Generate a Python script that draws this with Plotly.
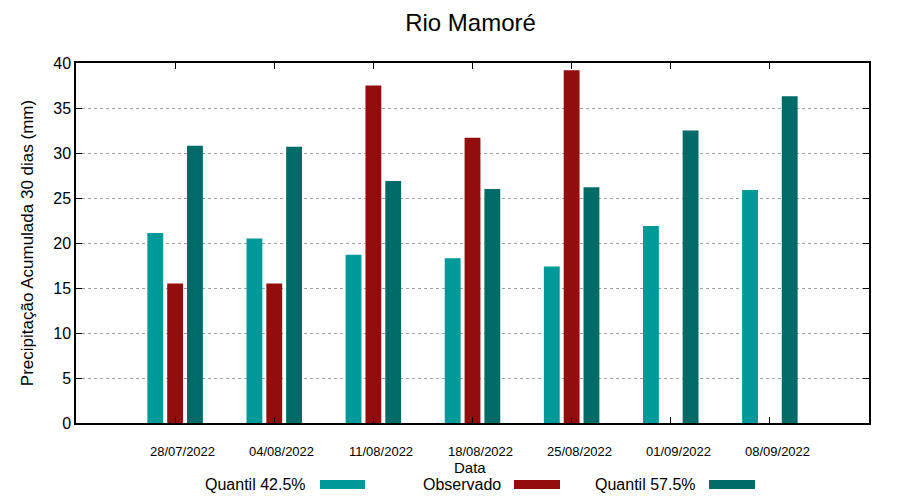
import plotly.graph_objects as go

datas = ["28/07/2022", "04/08/2022", "11/08/2022", "18/08/2022", "25/08/2022", "01/09/2022", "08/09/2022"]
quantil_425 = [21.1, 20.5, 18.7, 18.3, 17.4, 21.9, 25.9]
observado = [15.5, 15.5, 37.5, 31.7, 39.2, None, None]
quantil_575 = [30.8, 30.7, 26.9, 26.0, 26.2, 32.5, 36.3]

series = [
    ("Quantil 42.5%", quantil_425, "#009999"),
    ("Observado", observado, "#940d0d"),
    ("Quantil 57.5%", quantil_575, "#006a67"),
]

FONT = "Liberation Sans, Arial, sans-serif"
OFF = 8  # page body offset
L0, R0, T0, B0 = 76, 31, 63, 77
W, H = 900, 500
L, R, T, B = L0 - OFF, R0 + OFF, T0 - OFF, B0 + OFF
pw, ph = W - L0 - R0, H - T0 - B0

fig = go.Figure()
for name, vals, col in series:
    fig.add_trace(go.Bar(x=datas, y=vals, name=name, marker=dict(color=col, line=dict(width=0)),
                         showlegend=False))

fig.update_layout(
    width=W, height=H,
    margin=dict(l=L, r=R, t=T, b=B),
    paper_bgcolor="white", plot_bgcolor="white",
    barmode="group", bargap=0.4, bargroupgap=0.2,
    font=dict(family=FONT, color="black"),
    title=dict(text="Rio Mamoré", x=(470.5 - OFF) / W, xanchor="center", y=1 - (23 - OFF) / H,
               yanchor="middle", font=dict(size=24, family=FONT)),
)
fig.update_xaxes(
    type="category", range=[-1, 7],
    showline=True, linecolor="black", linewidth=1.5, mirror="ticks",
    ticks="inside", ticklen=6, tickcolor="black",
    showticklabels=False,
    showgrid=False,
)
fig.update_yaxes(
    range=[0, 40], dtick=5,
    showline=True, linecolor="black", linewidth=1.5, mirror="ticks",
    ticks="inside", ticklen=6, tickcolor="black",
    tickfont=dict(size=16),
    showgrid=True, gridcolor="#a0a0a0", griddash="dot", gridwidth=1,
    zeroline=False,
    title=dict(text="Precipitação Acumulada 30 dias (mm)", font=dict(size=17), standoff=15),
)

def px_x(x):
    return (x - L0) / pw

def px_y(y):
    return (T0 + ph - y) / ph

annotations = [
    dict(text="Data", x=px_x(L0 + pw / 2 - 3), y=px_y(467), xref="paper", yref="paper",
         showarrow=False, xanchor="center", yanchor="middle", font=dict(size=15)),
]
for d in datas:
    annotations.append(dict(text=d, x=d, xref="x", y=px_y(451), yref="paper", xshift=7.5,
                            showarrow=False, xanchor="center", yanchor="middle", font=dict(size=13)))
shapes = []
leg = [(308, 320, 365), (503, 514, 560), (698, 709, 755)]
for (name, vals, col), (tx, s0, s1) in zip(series, leg):
    annotations.append(dict(text=name, x=px_x(tx), y=px_y(484), xref="paper", yref="paper",
                            showarrow=False, xanchor="right", yanchor="middle", font=dict(size=16)))
    shapes.append(dict(type="rect", xref="paper", yref="paper", x0=px_x(s0), x1=px_x(s1),
                       y0=px_y(489), y1=px_y(480), fillcolor=col, line=dict(width=0)))
fig.update_layout(annotations=annotations, shapes=shapes)

fig.write_html("out.html")
